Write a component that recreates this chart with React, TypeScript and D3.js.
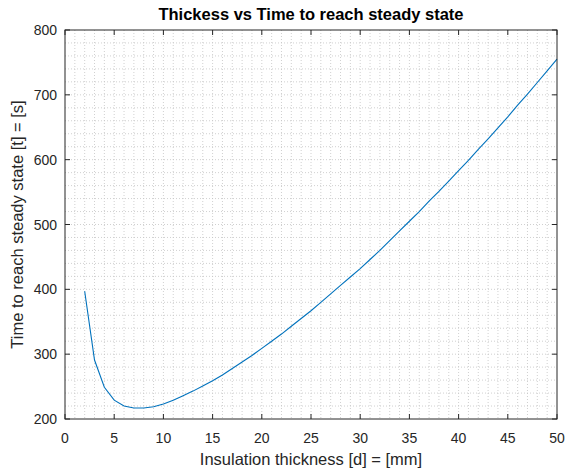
import React from 'react';
import * as d3 from 'd3';

// insulation thickness [mm]
const thickness = [2, 3, 4, 5, 6, 7, 8, 9, 10, 11, 12, 13, 14, 15, 16, 17, 18, 19, 20, 21, 22, 23, 24, 25, 26,
    27, 28, 29, 30, 31, 32, 33, 34, 35, 36, 37, 38, 39, 40, 41, 42, 43, 44, 45, 46, 47, 48, 49, 50];
// time to reach steady state [s]
const steadyTime = [397, 291, 249, 229, 220, 217, 217, 219, 223, 229, 236, 243, 251, 259, 268, 278, 288, 298, 309,
    320, 331, 343, 355, 367, 380, 393, 406, 419, 432, 446, 460, 475, 490, 505, 520, 536, 551, 567, 583,
    599, 616, 632, 649, 666, 684, 701, 719, 737, 755];
const xTicks = [0, 5, 10, 15, 20, 25, 30, 35, 40, 45, 50];
const yTicks = [200, 300, 400, 500, 600, 700, 800];

const W = 570, H = 472;
const M = { left: 65, right: 557, top: 30, bottom: 419 };
const FONT = '"Liberation Sans", Arial, Helvetica, sans-serif';

function App() {
    const x = d3.scaleLinear().domain([0, 50]).range([M.left, M.right]);
    const y = d3.scaleLinear().domain([200, 800]).range([M.bottom, M.top]);
    const line = d3.line<number>().x((d, i) => x(thickness[i])).y(d => y(d));
    const xMinor = d3.range(1, 50, 1);
    const yMinor = d3.range(220, 800, 20);
    const axisCol = '#262626';
    const tk = 5;
    return (
        <div style={{ position: 'absolute', left: 0, top: 0 }}>
            <svg width={W} height={H} style={{ display: 'block', background: '#fff' }}>
                <g stroke="#c4c4c4" strokeWidth={0.8} strokeDasharray="1,2">
                    {xMinor.map(v => <line key={'xm' + v} x1={x(v)} x2={x(v)} y1={M.top} y2={M.bottom} />)}
                    {yMinor.map(v => <line key={'ym' + v} x1={M.left} x2={M.right} y1={y(v)} y2={y(v)} />)}
                </g>
                <path d={line(steadyTime) || ''} fill="none" stroke="#0072BD" strokeWidth={1.1} />
                <rect x={M.left} y={M.top} width={M.right - M.left} height={M.bottom - M.top}
                    fill="none" stroke={axisCol} strokeWidth={1} />
                <g stroke={axisCol} strokeWidth={1}>
                    {xTicks.map(v => (
                        <g key={'xt' + v}>
                            <line x1={x(v)} x2={x(v)} y1={M.bottom} y2={M.bottom - tk} />
                            <line x1={x(v)} x2={x(v)} y1={M.top} y2={M.top + tk} />
                        </g>
                    ))}
                    {yTicks.map(v => (
                        <g key={'yt' + v}>
                            <line x1={M.left} x2={M.left + tk} y1={y(v)} y2={y(v)} />
                            <line x1={M.right} x2={M.right - tk} y1={y(v)} y2={y(v)} />
                        </g>
                    ))}
                </g>
                <g fontFamily={FONT} fontSize={14} fill={axisCol}>
                    {xTicks.map(v => (
                        <text key={'xl' + v} x={x(v)} y={443} textAnchor="middle">{v}</text>
                    ))}
                    {yTicks.map(v => (
                        <text key={'yl' + v} x={M.left - 8} y={y(v) + 5} textAnchor="end">{v}</text>
                    ))}
                    <text x={(M.left + M.right) / 2} y={465} textAnchor="middle" fontSize={16.5}>Insulation thickness [d] = [mm]</text>
                    <text transform={`translate(23, ${(M.top + M.bottom) / 2}) rotate(-90)`} textAnchor="middle" fontSize={16.5}>
                        Time to reach steady state [t] = [s]</text>
                    <text x={(M.left + M.right) / 2} y={20} textAnchor="middle" fontSize={16.5} fontWeight="bold" fill="#000">
                        Thickess vs Time to reach steady state</text>
                </g>
            </svg>
        </div>
    );
}

export default App;
